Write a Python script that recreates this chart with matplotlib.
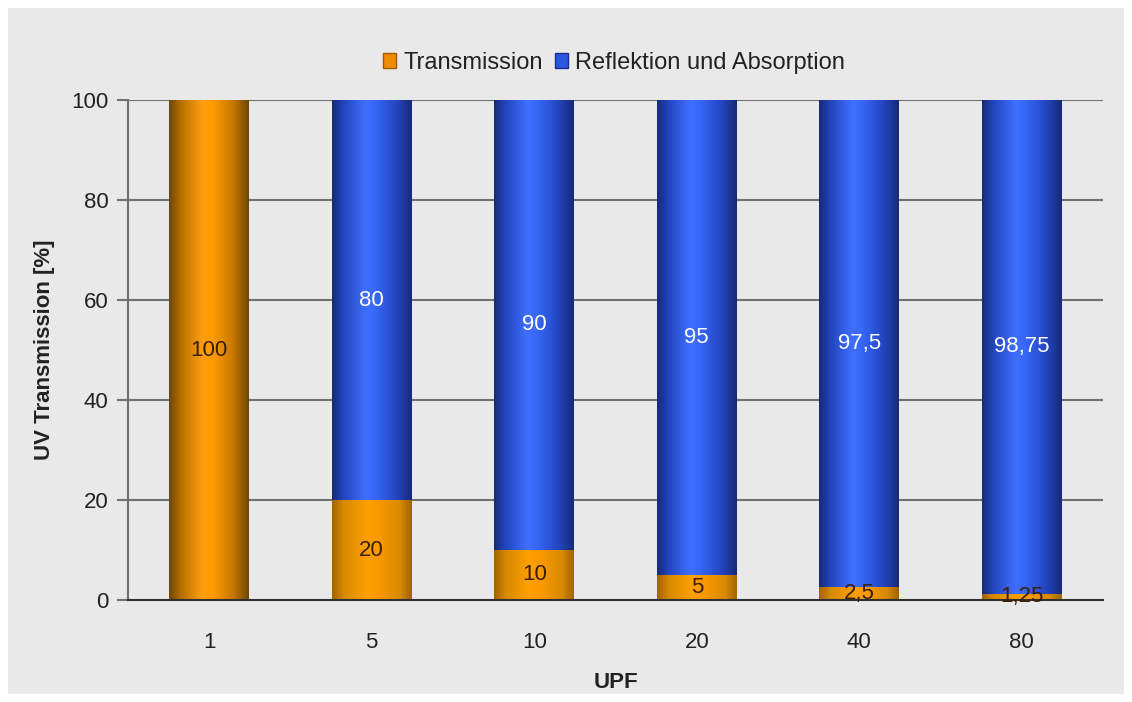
import numpy as np
import matplotlib
matplotlib.use("Agg")
import matplotlib.pyplot as plt
from matplotlib.colors import LinearSegmentedColormap
from matplotlib.patches import Rectangle, Patch

plt.rcParams['font.family'] = ['Liberation Sans', 'DejaVu Sans']

categories = ["1", "5", "10", "20", "40", "80"]
transmission = [100, 20, 10, 5, 2.5, 1.25]
reflexion = [0, 80, 90, 95, 97.5, 98.75]
trans_labels = ["100", "20", "10", "5", "2,5", "1,25"]
refl_labels = ["", "80", "90", "95", "97,5", "98,75"]
yticks = [0, 20, 40, 60, 80, 100]

W, H = 1132, 702
fig = plt.figure(figsize=(W / 100, H / 100), dpi=100, facecolor="white")
fig.patches.append(Rectangle((8 / W, 8 / H), (1124 - 8) / W, (694 - 8) / H,
                             transform=fig.transFigure, facecolor="#e9e9e9",
                             edgecolor="none", zorder=-10))

ax = fig.add_axes([128 / W, 1 - 600 / H, (1103 - 128) / W, 500 / H])
ax.set_facecolor("none")
ax.set_zorder(1)

orange_cmap = LinearSegmentedColormap.from_list(
    "or", [(0, "#6e4600"), (0.15, "#b87000"), (0.42, "#ff9e10"), (0.55, "#ff9a00"),
           (0.8, "#c77800"), (1, "#6e4600")])
orange_flat = LinearSegmentedColormap.from_list(
    "or2", [(0, "#a06400"), (0.15, "#d88a00"), (0.45, "#ffa000"), (0.6, "#f99800"),
            (0.85, "#d88a00"), (1, "#a06400")])
blue_cmap = LinearSegmentedColormap.from_list(
    "bl", [(0, "#162a78"), (0.15, "#2346c0"), (0.42, "#3f6fff"), (0.55, "#3566f5"),
           (0.8, "#2446c2"), (1, "#162a78")])
grad = np.linspace(0, 1, 256).reshape(1, -1)

x = np.arange(len(categories))
bw = 0.49
for i in x:
    t = transmission[i]
    r = reflexion[i]
    cm = orange_cmap if r == 0 else orange_flat
    ax.imshow(grad, cmap=cm, aspect="auto",
              extent=[i - bw / 2, i + bw / 2, 0, t], zorder=3, interpolation="bilinear")
    if r > 0:
        ax.imshow(grad, cmap=blue_cmap, aspect="auto",
                  extent=[i - bw / 2, i + bw / 2, t, t + r], zorder=3, interpolation="bilinear")
    ax.text(i, t / 2, trans_labels[i], ha="center", va="center", fontsize=16,
            color="#3a1e05", zorder=5)
    if refl_labels[i]:
        ax.text(i, t + r / 2, refl_labels[i], ha="center", va="center",
                fontsize=16, color="white", zorder=5)

ax.set_xlim(-0.5, len(categories) - 0.5)
ax.set_ylim(0, 100)
ax.set_xticks(x)
ax.set_xticklabels(categories)
ax.set_yticks(yticks)
ax.tick_params(axis="y", length=8, width=1.5, color="#707070", labelsize=16,
               labelcolor="#222222", pad=6)
ax.tick_params(axis="x", length=0, labelsize=16, labelcolor="#222222", pad=23)
for yv in yticks[1:]:
    ax.axhline(yv, color="#707070", lw=1.5, zorder=1)
for s in ["top", "right"]:
    ax.spines[s].set_visible(False)
ax.spines["left"].set_color("#707070")
ax.spines["left"].set_linewidth(1.5)
ax.spines["bottom"].set_color("#303030")
ax.spines["bottom"].set_linewidth(1.5)
ax.spines["bottom"].set_zorder(4)

ax.set_ylabel("UV Transmission [%]", fontsize=16, fontweight="bold", color="#222222", labelpad=12)
ax.set_xlabel("UPF", fontsize=16, fontweight="bold", color="#222222", labelpad=14)

handles = [Patch(facecolor="#f08c00", edgecolor="#a05a00"),
           Patch(facecolor="#2a55e0", edgecolor="#1a3090")]
fig.legend(handles, ["Transmission", "Reflektion und Absorption"], loc="center",
           bbox_to_anchor=(614 / W, 1 - 63 / H), ncol=2, frameon=False, fontsize=17,
           handlelength=0.55, handleheight=0.6, handletextpad=0.3, columnspacing=0.5,
           labelcolor="#222222")

fig.savefig("out.png", dpi=100, facecolor="white")
